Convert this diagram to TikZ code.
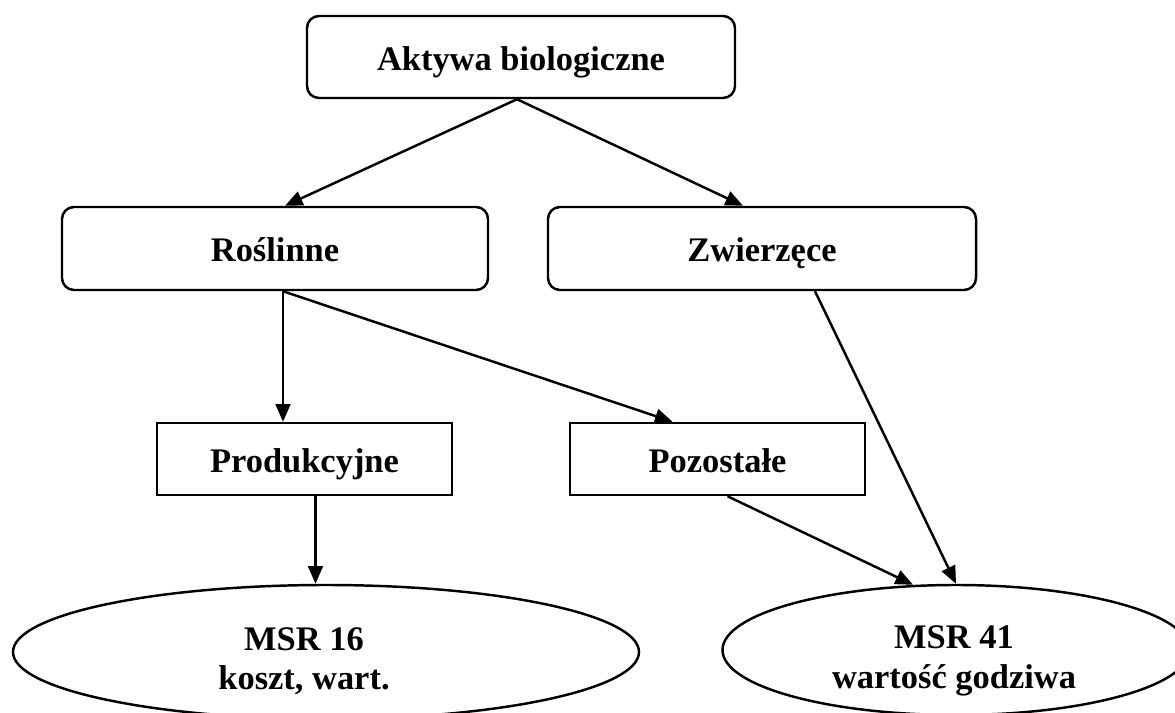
\documentclass[tikz,border=0pt]{standalone}
\usepackage{fontspec}
\setmainfont{Liberation Serif}
\usetikzlibrary{arrows.meta,calc,shapes.geometric}

\tikzset{
  every node/.style={font=\fontsize{29.4}{33.5}\selectfont\bfseries, inner sep=0pt, align=center},
  boxtext/.style={text height=26pt, text depth=3pt},
  roundbox/.style={draw, boxtext, rounded corners=0.36cm, line width=2.1pt},
  flatbox/.style={draw, boxtext, line width=2.1pt, minimum width=8.85cm, minimum height=2.16cm},
  oval/.style={draw, ellipse, line width=2.1pt},
  arr/.style={line width=2.1pt, -{Triangle[length=15pt,width=12.5pt]}}
}

\begin{document}
\begin{tikzpicture}[x=0.03cm, y=-0.03cm]
  \useasboundingbox (0,0) rectangle (1175,713);
  \clip (0,0) rectangle (1175,713);

  % category boxes
  \node[roundbox, minimum width=12.84cm, minimum height=2.46cm] (akt) at (521,57) {Aktywa biologiczne};
  \node[roundbox, minimum width=12.78cm, minimum height=2.49cm] (ros) at (275,248.5) {Roślinne};
  \node[roundbox, minimum width=12.84cm, minimum height=2.49cm] (zw) at (762,248.5) {Zwierzęce};
  \node[flatbox] (prod) at (304.5,459) {Produkcyjne};
  \node[flatbox] (pozo) at (717.5,459) {Pozostałe};

  % standards
  \node[oval, minimum width=18.78cm, minimum height=4.02cm] (ms16) at (326,652) {};
  \node (ms16t) at (304,661) {MSR 16\\koszt, wart.};
  \node[oval, minimum width=14.01cm, minimum height=3.9cm] (ms41) at (956,650) {};
  \node (ms41t) at (954,661) {MSR 41\\wartość godziwa};

  % connectors
  \coordinate (rosout) at ($(ros.south)+(8,0)$);
  \coordinate (prodout) at ($(prod.south)+(11,0)$);
  \draw[arr] ($(akt.south)+(-4,0)$) -- ($(ros.north)+(10,0)$);
  \draw[arr] ($(akt.south)+(-4,0)$) -- ($(zw.north)+(-19,0)$);
  \draw[arr] (rosout) -- (rosout |- prod.north);
  \draw[arr] (rosout) -- ($(pozo.north)+(-45,0)$);
  \draw[arr] ($(zw.south)+(53,0)$) -- (ms41.north);
  \draw[arr] ($(pozo.south)+(10,0)$) -- ($(ms41.north)+(-43,1)$);
  \draw[arr] (prodout) -- (prodout |- ms16.north);
\end{tikzpicture}
\end{document}
